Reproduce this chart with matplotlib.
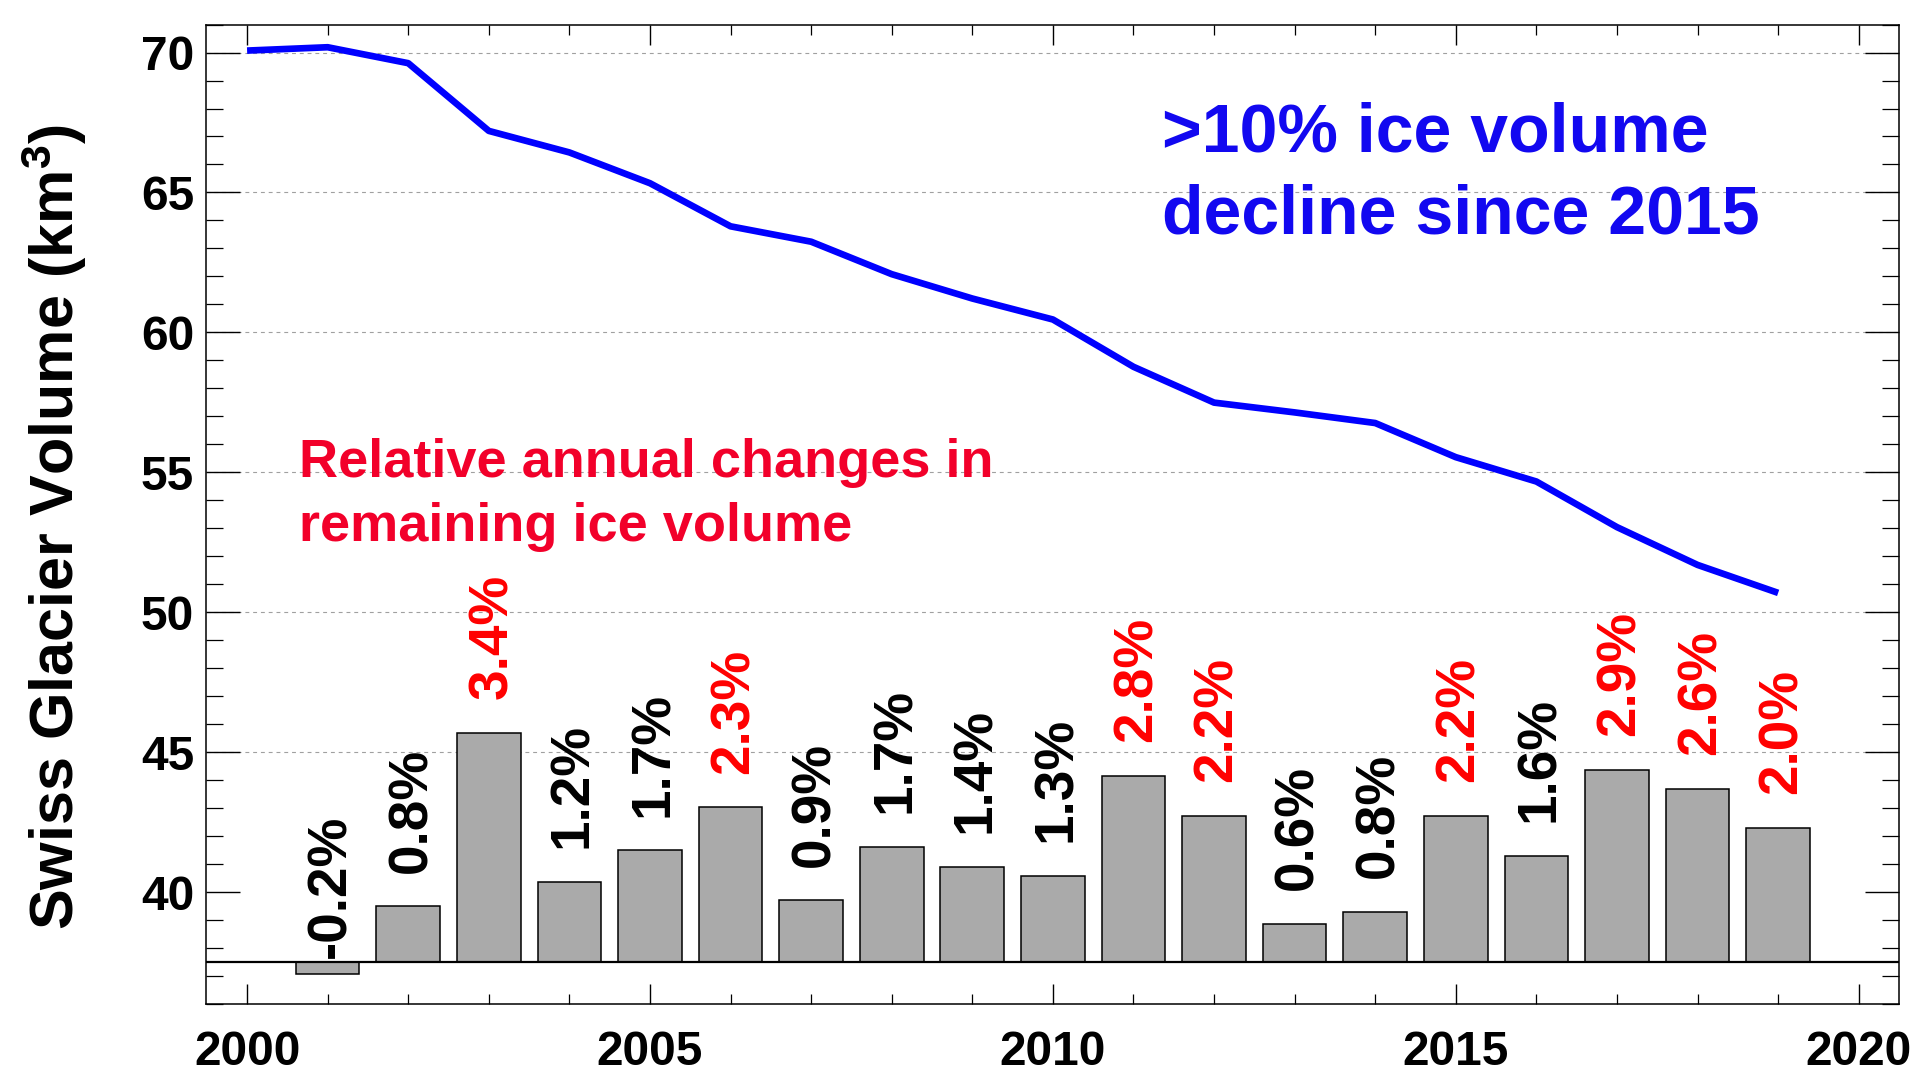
import matplotlib
matplotlib.use('Agg')
import matplotlib.pyplot as plt
from matplotlib.ticker import MultipleLocator, FixedLocator

# ---------------- data ----------------
years = list(range(2000, 2020))
volume_km3 = [70.07, 70.19, 69.62, 67.20, 66.43, 65.33, 63.79, 63.24, 62.08, 61.21,
              60.46, 58.77, 57.49, 57.14, 56.76, 55.54, 54.67, 53.04, 51.69, 50.69]

bar_years = list(range(2001, 2020))
annual_change_pct = [-0.18, 0.83, 3.43, 1.20, 1.67, 2.31, 0.92, 1.72, 1.42, 1.29,
                     2.78, 2.19, 0.57, 0.75, 2.19, 1.59, 2.87, 2.59, 2.01]
bar_labels = ['-0.2%', '0.8%', '3.4%', '1.2%', '1.7%', '2.3%', '0.9%', '1.7%', '1.4%',
              '1.3%', '2.8%', '2.2%', '0.6%', '0.8%', '2.2%', '1.6%', '2.9%', '2.6%', '2.0%']

x_ticks = [2000, 2005, 2010, 2015, 2020]
y_ticks = [40, 45, 50, 55, 60, 65, 70]
grid_levels = [45, 50, 55, 60, 65, 70]

# bars are drawn on the volume axis: baseline and units per percent
BAR_BASE = 37.5
BAR_SCALE = 2.39
RED_THRESHOLD = 2.0

# ---------------- style ----------------
plt.rcParams['font.family'] = ['Liberation Sans', 'DejaVu Sans']
plt.rcParams['font.weight'] = 'bold'
plt.rcParams['mathtext.fontset'] = 'custom'
plt.rcParams['mathtext.rm'] = 'Liberation Sans:bold'
plt.rcParams['mathtext.bf'] = 'Liberation Sans:bold'
plt.rcParams['mathtext.it'] = 'Liberation Sans:bold'

BLUE = '#0000ff'
TEXT_BLUE = '#1208f0'
RED = '#ff0000'
TEXT_RED = '#f2002a'

fig = plt.figure(figsize=(19.25, 10.87), dpi=100)
ax = fig.add_axes([0.1070, 0.0764, 0.8795, 0.9010])

ax.set_xlim(1999.49, 2020.5)
ax.set_ylim(36.0, 71.0)

# grid lines
for g in grid_levels:
    ax.axhline(g, color='#a0a0a0', lw=0.8, ls=(0, (3.5, 3.5)), zorder=0)

# bars
heights = [p * BAR_SCALE for p in annual_change_pct]
ax.bar(bar_years, heights, width=0.79, bottom=BAR_BASE, color='#aaaaaa',
       edgecolor='black', linewidth=1.1, zorder=2)
ax.axhline(BAR_BASE, color='black', lw=1.6, zorder=3)

# bar labels
for yr, p, lab in zip(bar_years, annual_change_pct, bar_labels):
    top = BAR_BASE + p * BAR_SCALE
    if p >= 0:
        ly = top + 1.2
    else:
        ly = BAR_BASE + 0.15
    col = RED if float(lab.rstrip('%')) >= RED_THRESHOLD else 'black'
    ax.text(yr + 0.05, ly, lab, rotation=90, ha='center', va='bottom',
            fontsize=39.5, fontweight='bold', color=col, zorder=4)

# volume line
ax.plot(years, volume_km3, color=BLUE, lw=4.8, zorder=5, solid_capstyle='butt')

# annotations
ax.text(2011.36, 66.46, '>10% ice volume', color=TEXT_BLUE, fontsize=49,
        fontweight='bold', ha='left', va='baseline')
ax.text(2011.36, 63.55, 'decline since 2015', color=TEXT_BLUE, fontsize=49,
        fontweight='bold', ha='left', va='baseline')
ax.text(2000.65, 54.83, 'Relative annual changes in', color=TEXT_RED, fontsize=39,
        fontweight='bold', ha='left', va='baseline')
ax.text(2000.65, 52.55, 'remaining ice volume', color=TEXT_RED, fontsize=39,
        fontweight='bold', ha='left', va='baseline')

# axes / ticks
ax.xaxis.set_major_locator(FixedLocator(x_ticks))
ax.xaxis.set_minor_locator(MultipleLocator(1))
ax.yaxis.set_major_locator(FixedLocator(y_ticks))
ax.yaxis.set_minor_locator(MultipleLocator(1))

ax.tick_params(axis='x', which='major', direction='in', length=14.4, width=1.0,
               top=True, bottom=True, labelsize=34.5, pad=18.5)
ax.tick_params(axis='x', which='minor', direction='in', length=7.2, width=0.9,
               top=True, bottom=True)
ax.tick_params(axis='y', which='major', direction='in', length=24.5, width=1.0,
               left=True, right=True, labelsize=34.5, pad=8.6)
ax.tick_params(axis='y', which='minor', direction='in', length=12.2, width=0.9,
               left=True, right=True)
for lab in ax.get_xticklabels() + ax.get_yticklabels():
    lab.set_fontweight('bold')

for sp in ax.spines.values():
    sp.set_linewidth(1.1)
    sp.set_color('black')

fig.text(54 / 1925, 0.515, r'Swiss Glacier Volume (km$^{\mathbf{3}}$)', rotation=90,
         ha='center', va='center', fontsize=44, fontweight='bold')

fig.savefig('out.png', dpi=100)
